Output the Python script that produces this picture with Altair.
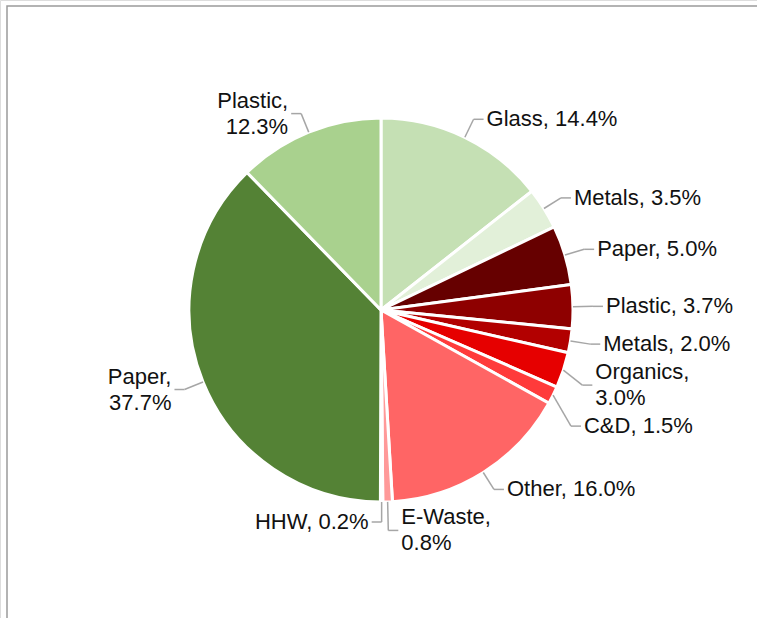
import altair as alt
import numpy as np
import pandas as pd

# ---- data (clockwise from 12 o'clock) ----
categories = ["Glass", "Metals", "Paper", "Plastic", "Metals", "Organics",
              "C&D", "Other", "E-Waste", "HHW", "Paper", "Plastic"]
values = [14.4, 3.5, 5.0, 3.7, 2.0, 3.0, 1.5, 16.0, 0.8, 0.2, 37.7, 12.3]
colors = ["#c5e0b4", "#e2f0d9", "#660000", "#8e0000", "#b20000", "#e60000",
          "#ff3b3b", "#ff6565", "#ff9999", "#ffcccc", "#548235", "#a9d18e"]
wrapped = [False, False, False, False, False, True,
           False, False, True, False, True, True]

# ---- layout ----
W, H = 757, 618
CX, CY, R = 381, 310, 192
FONT = "Liberation Sans"
FS = 22
LH = 26

n = len(values)
vals = np.array(values, dtype=float)
total = vals.sum()
cum = np.cumsum(vals)
mid = 2 * np.pi * (cum - vals / 2) / total
s, c = np.sin(mid), np.cos(mid)

right = s > 0.01
ex = CX + R * s
ey = CY - R * c
bx = CX + (R + 20) * s
by = CY - (R + 20) * c
labels = [f"{k},\n{v:.1f}%" if w else f"{k}, {v:.1f}%" for k, v, w in zip(categories, values, wrapped)]
nlines = np.array([2 if w else 1 for w in wrapped], dtype=float)
heights = nlines * LH

ly = by.copy()
for side in (True, False):
    idx = [i for i in range(n) if right[i] == side]
    idx.sort(key=lambda i: ly[i])
    prev_bottom = -1e9
    for i in idx:
        top = ly[i] - heights[i] / 2
        if top < prev_bottom + 2:
            ly[i] = prev_bottom + 2 + heights[i] / 2
        prev_bottom = ly[i] + heights[i] / 2

hx = np.where(right, bx + 10, bx - 10)
tx = np.where(right, hx + 3, hx - 3)
ty = ly - (nlines - 1) * LH / 2  # first-line centre of a multi-line label

df = pd.DataFrame({
    "idx": range(n), "cat": categories, "value": values, "color": colors,
    "label": labels, "ex": ex, "ey": ey, "bx": bx, "ly": ly, "hx": hx,
    "tx": tx, "ty": ty, "side": np.where(right, "R", "L"),
})

base = alt.Chart(df)

pie = base.mark_arc(outerRadius=R, stroke="white", strokeWidth=3).encode(
    theta=alt.Theta("value:Q", stack=True),
    order=alt.Order("idx:Q"),
    color=alt.Color("color:N", scale=None),
    x=alt.value(CX), y=alt.value(CY),
)

lead1 = base.mark_rule(color="#a6a6a6", strokeWidth=1.5).encode(
    x=alt.X("ex:Q", scale=None), y=alt.Y("ey:Q", scale=None),
    x2="bx:Q", y2="ly:Q",
)
lead2 = base.mark_rule(color="#a6a6a6", strokeWidth=1.5).encode(
    x=alt.X("bx:Q", scale=None), y=alt.Y("ly:Q", scale=None),
    x2="hx:Q", y2="ly:Q",
)

def text_layer(side, align):
    return base.transform_filter(alt.datum.side == side).mark_text(
        align=align, baseline="middle", font=FONT, fontSize=FS,
        lineBreak="\n", lineHeight=LH, color="#111111",
    ).encode(
        x=alt.X("tx:Q", scale=None), y=alt.Y("ty:Q", scale=None),
        text="label:N",
    )

txt_r = text_layer("R", "left")
txt_l = text_layer("L", "right")

# chart frame (its right and bottom edges fall outside the picture)
frame = alt.Chart(df.head(1)).mark_rect(
    fill="white", stroke="#9a9a9a", strokeWidth=1.5
).encode(
    x=alt.value(7), x2=alt.value(W + 40), y=alt.value(6), y2=alt.value(H + 40)
)

chart = alt.layer(frame, pie, lead1, lead2, txt_r, txt_l).properties(
    width=W, height=H, autosize=alt.AutoSizeParams(type="none"), padding=0,
).configure_view(stroke=None).configure(background="white")

chart.save("out.html", embed_options={"renderer": "svg", "actions": False})
